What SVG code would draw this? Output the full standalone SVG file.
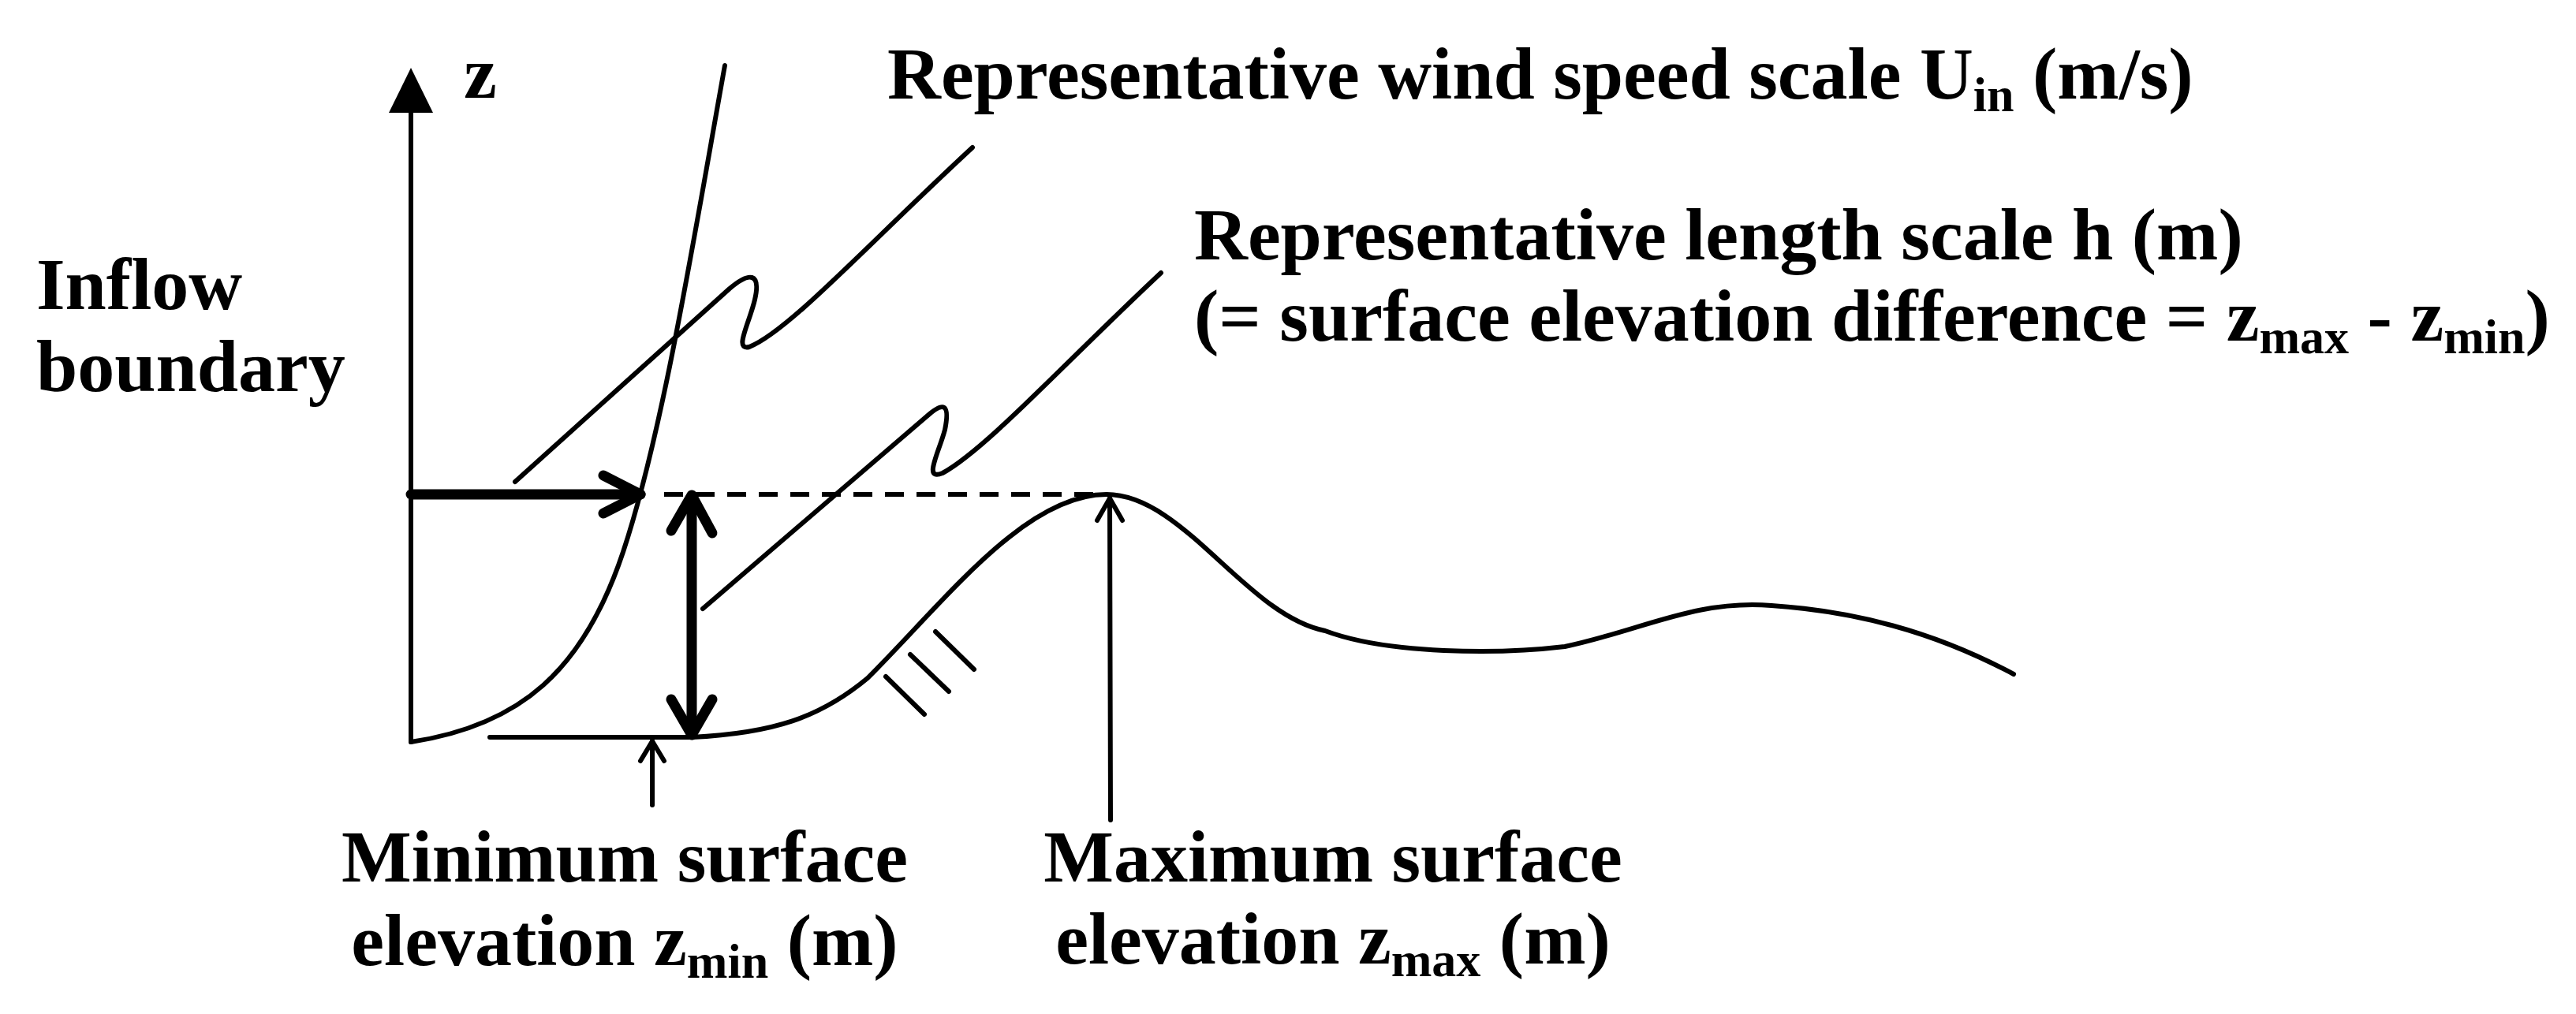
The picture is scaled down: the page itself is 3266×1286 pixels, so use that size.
<svg xmlns="http://www.w3.org/2000/svg" width="3266" height="1286" viewBox="0 0 3266 1286">
<style>
.t{font-family:"Liberation Serif",serif;font-weight:bold;font-size:94px;fill:#000}
.s{font-size:62px}
.ln{fill:none;stroke:#000;stroke-width:6;stroke-linecap:round;stroke-linejoin:round}
.tk{fill:none;stroke:#000;stroke-width:13;stroke-linecap:round;stroke-linejoin:round}
</style>
<rect width="3266" height="1286" fill="#fff"/>
<g id="axis">
<line class="ln" x1="521" y1="941" x2="521" y2="140"/>
<polygon points="521,86 493,143 549,143" fill="#000"/>
<text class="t" x="588" y="124">z</text>
</g>
<g id="profile"><path class="ln" d="M521,941 C660,920 740,850 790,700 C840,550 880,300 919,83"/></g>
<g id="ground">
<path class="ln" d="M621,935 L877,935 C980,930 1040,910 1100,860 C1200,760 1300,627 1403,627 C1500,627 1580,780 1680,800 C1760,830 1900,830 1984,820 C2080,800 2150,760 2246,768 C2350,775 2450,800 2553,855"/>
<line class="ln" x1="1123" y1="858" x2="1172" y2="906"/>
<line class="ln" x1="1154" y1="830" x2="1203" y2="877"/>
<line class="ln" x1="1186" y1="801" x2="1235" y2="849"/>
</g>
<g id="connectors">
<line class="tk" x1="521" y1="627" x2="812" y2="627"/>
<polyline class="tk" points="765,603 812,627 765,651"/>
<line x1="842" y1="627" x2="1400" y2="627" stroke="#000" stroke-width="6" stroke-dasharray="24,16"/>
<line class="tk" x1="877" y1="632" x2="877" y2="930"/>
<polyline class="tk" points="851,673 877,628 903,676"/>
<polyline class="tk" points="851,887 877,932 903,887"/>
<path class="ln" d="M653,611 L925,366 C950,345 965,345 957,380 C950,410 930,445 950,440 C1000,420 1100,310 1233,187"/>
<path class="ln" d="M891,772 L1175,528 C1195,510 1205,510 1198,545 C1190,575 1170,610 1195,600 C1250,570 1350,460 1472,346"/>
<line class="ln" x1="827" y1="940" x2="827" y2="1021"/>
<polyline class="ln" points="812,965 827,940 842,965"/>
<line class="ln" x1="1407" y1="632" x2="1408" y2="1040"/>
<polyline class="ln" points="1391,660 1407,632 1423,660"/>
</g>
<g id="labels">
<text class="t" x="1125" y="125">Representative wind speed scale U<tspan class="s" dy="16">in</tspan><tspan dy="-16"> (m/s)</tspan></text>
<text class="t" x="1514" y="329">Representative length scale h (m)</text>
<text class="t" x="1514" y="432">(= surface elevation difference = z<tspan class="s" dy="16">max</tspan><tspan dy="-16"> - z</tspan><tspan class="s" dy="16">min</tspan><tspan dy="-16">)</tspan></text>
<text class="t" x="46" y="392">Inflow</text>
<text class="t" x="46" y="496">boundary</text>
<text class="t" x="792" y="1118" text-anchor="middle">Minimum surface</text>
<text class="t" x="792" y="1224" text-anchor="middle">elevation z<tspan class="s" dy="16">min</tspan><tspan dy="-16"> (m)</tspan></text>
<text class="t" x="1690" y="1118" text-anchor="middle">Maximum surface</text>
<text class="t" x="1690" y="1222" text-anchor="middle">elevation z<tspan class="s" dy="16">max</tspan><tspan dy="-16"> (m)</tspan></text>
</g>
</svg>
